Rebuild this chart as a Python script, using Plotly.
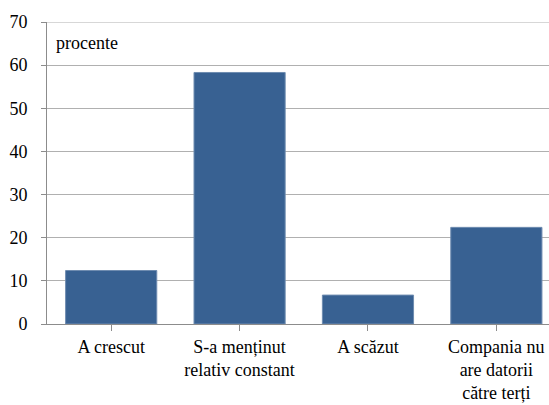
import plotly.graph_objects as go

categorii = ['A crescut', 'S-a menținut<br>relativ constant', 'A scăzut', 'Compania nu<br>are datorii<br>către terți']
procente = [12.4, 58.3, 6.7, 22.4]
y_ticks = [0, 10, 20, 30, 40, 50, 60, 70]

fig = go.Figure()

fig.add_trace(go.Bar(
    x=list(range(len(categorii))),
    y=procente,
    marker_color='#386192',
    marker_line=dict(color='#6f8cb0', width=1),
    width=0.71,
))

fig.update_layout(
    width=549,
    height=405,
    margin=dict(l=47, r=0, t=22, b=81, autoexpand=False),
    paper_bgcolor='white',
    plot_bgcolor='white',
    font=dict(family='Liberation Serif, Times New Roman, serif', size=18, color='black'),
    showlegend=False,
    xaxis=dict(
        range=[-0.5, 3.41],
        tickmode='array',
        tickvals=list(range(len(categorii))),
        ticktext=categorii,
        showline=True,
        linecolor='#8c8c8c',
        linewidth=1,
        ticks='outside',
        tickcolor='#8c8c8c',
        ticklen=6,
        ticklabelstandoff=0,
        showgrid=False,
        zeroline=False,
        automargin=False,
    ),
    yaxis=dict(
        range=[0, 70],
        tickvals=y_ticks,
        showline=True,
        linecolor='#8c8c8c',
        linewidth=1,
        ticks='outside',
        tickcolor='#8c8c8c',
        ticklen=5,
        ticklabelstandoff=10,
        showgrid=True,
        gridcolor='#b0b0b0',
        gridwidth=1,
        zeroline=False,
        automargin=False,
    ),
)

# linia de grila de sus (70) nu e desenata automat
fig.add_shape(type='line', xref='paper', yref='y', x0=0, x1=1, y0=70, y1=70,
              line=dict(color='#b0b0b0', width=1))

fig.add_annotation(
    x=0, y=1, xref='paper', yref='paper',
    xanchor='left', yanchor='top',
    xshift=7, yshift=-9,
    text='procente', showarrow=False,
    font=dict(size=18),
)

# fara marginea implicita a paginii (8px) si fara modebar
fig.write_html('out.html', config={'displayModeBar': False},
               post_script="document.body.style.margin='0';")
